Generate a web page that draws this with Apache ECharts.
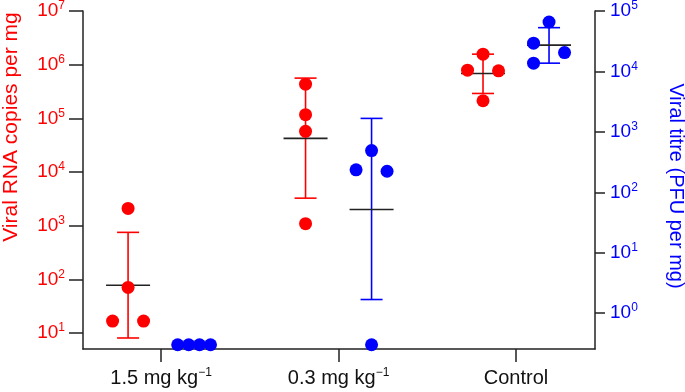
<!DOCTYPE html>
<html>
<head>
<meta charset="utf-8">
<script src="https://cdn.jsdelivr.net/npm/echarts@6/dist/echarts.min.js"></script>
<style>
  html, body { margin: 0; padding: 0; background: #fff; }
  #chart { width: 685px; height: 392px; }
</style>
</head>
<body>
<div id="chart"></div>
<script>
// groups on the x axis
var groups = ['1.5 mg kg', '0.3 mg kg', 'Control'];
var groupSup = ['\u22121', '\u22121', ''];

// viral RNA copies per mg (left axis), one row per group
var rnaValues = [
  [2100, 71, 16.7, 16.7],
  [434000, 117000, 57300, 1090],
  [1570000, 791000, 767000, 213000]
];
var rnaJitter = [[0, 0, -1, 1], [0, 0, 0, 0], [0, -1, 1, 0]];
var rnaMean = [78, 42400, 684000];
var rnaLow = [8.1, 3260, 291000];
var rnaHigh = [752, 562000, 1570000];

// viral titre, PFU per mg (right axis)
var titreValues = [
  [0.3, 0.3, 0.3, 0.3],
  [490, 235, 223, 0.3],
  [65800, 29300, 20500, 13700]
];
var titreJitter = [[-1.06, -0.35, 0.35, 1.06], [0, -1, 1, 0], [0, -1, 1, -1]];
var titreMean = [null, 52, 27200];
var titreLow = [null, 1.68, 13700];
var titreHigh = [null, 1670, 53000];

var rnaTicks = [10, 1e2, 1e3, 1e4, 1e5, 1e6, 1e7];
var titreTicks = [1, 10, 1e2, 1e3, 1e4, 1e5];
var groupTicks = [1, 2, 3];

var RED = '#ff0000', BLUE = '#0000ff', DARK = '#222';
var FONT = '"Liberation Sans", Arial, Helvetica, sans-serif';
var SIDE = 0.186, JIT = 0.0873;

function points(values, jitter, side) {
  var out = [];
  for (var i = 0; i < values.length; i++) {
    for (var j = 0; j < values[i].length; j++) {
      out.push([i + 1 + side * SIDE + jitter[i][j] * JIT, values[i][j]]);
    }
  }
  return out;
}

function errorBars(mean, low, high, side, color, yAxisIndex) {
  var data = [];
  for (var i = 0; i < mean.length; i++) {
    if (mean[i] == null) continue;
    data.push([i + 1 + side * SIDE, mean[i], low[i], high[i]]);
  }
  return {
    type: 'custom',
    yAxisIndex: yAxisIndex,
    z: 2,
    silent: true,
    data: data,
    renderItem: function (params, api) {
      var x = api.value(0);
      var m = api.coord([x, api.value(1)]);
      var lo = api.coord([x, api.value(2)]);
      var hi = api.coord([x, api.value(3)]);
      var st = { stroke: color, lineWidth: 1.6 };
      return {
        type: 'group',
        children: [
          { type: 'line', shape: { x1: lo[0], y1: lo[1], x2: hi[0], y2: hi[1] }, style: st },
          { type: 'line', shape: { x1: lo[0] - 11, y1: lo[1], x2: lo[0] + 11, y2: lo[1] }, style: st },
          { type: 'line', shape: { x1: hi[0] - 11, y1: hi[1], x2: hi[0] + 11, y2: hi[1] }, style: st },
          { type: 'line', shape: { x1: m[0] - 22, y1: m[1], x2: m[0] + 22, y2: m[1] }, style: { stroke: DARK, lineWidth: 1.6 } }
        ]
      };
    }
  };
}

function powLabel(v) {
  var e = Math.round(Math.log10(v));
  return '{b|10}{s|' + e + '}';
}

function logAxis(min, max, ticks, color, pos, tickLen, margin) {
  return {
    type: 'log',
    logBase: 10,
    position: pos,
    min: min,
    max: max,
    splitLine: { show: false },
    axisLine: { show: true, lineStyle: { color: DARK, width: 1.5 } },
    axisTick: { show: true, length: tickLen, customValues: ticks, lineStyle: { color: DARK, width: 1.5 } },
    axisLabel: {
      customValues: ticks,
      margin: margin,
      formatter: powLabel,
      rich: {
        b: { color: color, fontSize: 19, fontFamily: FONT, lineHeight: 22 },
        s: { color: color, fontSize: 12, fontFamily: FONT, verticalAlign: 'top', lineHeight: 12 }
      }
    }
  };
}

var chart = echarts.init(document.getElementById('chart'));
chart.setOption({
  animation: false,
  grid: { left: 83, right: 90, top: 10, bottom: 43 },
  xAxis: {
    type: 'value',
    min: 0.56,
    max: 3.445,
    splitLine: { show: false },
    axisLine: { show: true, onZero: false, lineStyle: { color: DARK, width: 1.5 } },
    axisTick: { show: true, length: 13, customValues: groupTicks, lineStyle: { color: DARK, width: 1.5 } },
    axisLabel: {
      customValues: groupTicks,
      margin: 18,
      formatter: function (v) {
        var i = Math.round(v) - 1;
        return '{n|' + groups[i] + '}' + (groupSup[i] ? '{s|' + groupSup[i] + '}' : '');
      },
      rich: {
        n: { color: '#111', fontSize: 20, fontFamily: FONT, lineHeight: 22 },
        s: { color: '#111', fontSize: 12, fontFamily: FONT, verticalAlign: 'top', lineHeight: 12 }
      }
    }
  },
  yAxis: [
    logAxis(5.05, 1e7, rnaTicks, RED, 'left', 14, 18),
    logAxis(0.255, 1e5, titreTicks, BLUE, 'right', 10, 15)
  ],
  graphic: [
    {
      type: 'text', x: 11, y: 127, rotation: Math.PI / 2,
      style: { text: 'Viral RNA copies per mg', fill: RED, fontSize: 21, fontFamily: FONT, align: 'center', verticalAlign: 'middle' }
    },
    {
      type: 'text', x: 676, y: 186, rotation: -Math.PI / 2,
      style: { text: 'Viral titre (PFU per mg)', fill: BLUE, fontSize: 20, fontFamily: FONT, align: 'center', verticalAlign: 'middle' }
    }
  ],
  series: [
    errorBars(rnaMean, rnaLow, rnaHigh, -1, RED, 0),
    errorBars(titreMean, titreLow, titreHigh, 1, BLUE, 1),
    {
      type: 'scatter', yAxisIndex: 0, z: 3, symbolSize: 13, clip: false,
      itemStyle: { color: RED, opacity: 1 },
      data: points(rnaValues, rnaJitter, -1)
    },
    {
      type: 'scatter', yAxisIndex: 1, z: 3, symbolSize: 13, clip: false,
      itemStyle: { color: BLUE, opacity: 1 },
      data: points(titreValues, titreJitter, 1)
    }
  ]
});
</script>
</body>
</html>
